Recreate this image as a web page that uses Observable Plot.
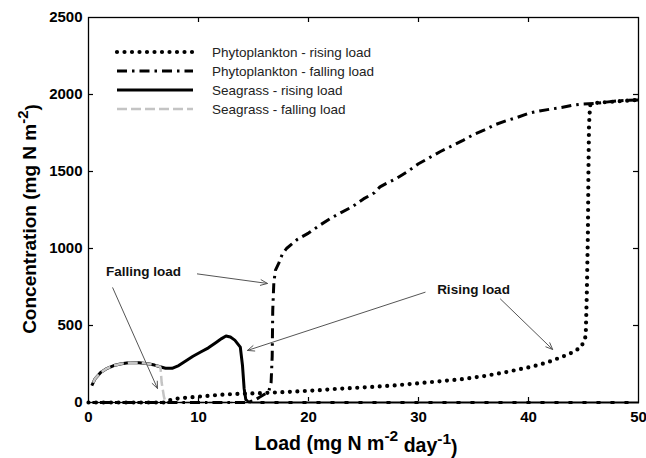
<!DOCTYPE html>
<html><head><meta charset="utf-8">
<script src="https://cdn.jsdelivr.net/npm/d3@7"></script>
<script src="https://cdn.jsdelivr.net/npm/@observablehq/plot@0.6"></script>
<style>
body{margin:0;background:#fff;}
#chart{width:646px;height:458px;}
</style></head><body><div id="chart"></div>
<script>
const xTicks=[0,10,20,30,40,50];
const yTicks=[0,500,1000,1500,2000,2500];
const seriesNames=["Phytoplankton - rising load","Phytoplankton - falling load","Seagrass - rising load","Seagrass - falling load"];

const phytoRising=[[0,0],[2,0],[4,0],[6,0],[7,0],[7.2,12],[8,25],[9,32],[10,38],[11,44],[12,50],[13,54],[14,57],[15,59],[16,62],[17,65],[18,68],[19,72],[20,76],[21,80],[22,86],[23,90],[24,94],[26,102],[28,112],[30,125],[32,138],[34,152],[36,172],[38,198],[40,228],[41,245],[42,268],[43,295],[44,325],[44.8,360],[45.2,430],[45.3,700],[45.4,1100],[45.45,1500],[45.5,1800],[45.6,1930],[46,1945],[47,1950],[48,1955],[49,1960],[50,1965]];

const phytoFalling=[[50,1965],[49,1962],[48,1958],[47,1950],[46,1942],[45,1938],[44,1930],[43,1915],[42,1905],[41,1893],[40,1878],[39,1852],[38,1830],[37,1805],[36,1770],[35,1740],[34,1700],[33,1665],[32,1630],[31,1590],[30,1550],[29,1500],[28,1455],[27,1420],[26.5,1400],[26,1362],[25,1322],[24,1272],[23,1235],[22,1195],[21,1150],[20,1100],[19,1060],[18.5,1030],[18,1000],[17.6,960],[17.3,905],[17.0,860],[16.85,780],[16.75,600],[16.7,300],[16.6,130],[16.4,75],[16.1,58],[15.5,32],[15.0,12],[14.6,3],[14.3,0],[12,0],[10,0],[8,0],[6,0],[4,0],[2,0],[0,0]];

const seagrassRising=[[0.3,110],[0.6,155],[1.1,195],[1.7,222],[2.3,240],[3,252],[3.8,260],[4.6,258],[5.4,252],[6,243],[6.5,232],[7,222],[7.6,222],[8.2,240],[8.8,268],[9.5,300],[10.2,328],[10.9,355],[11.6,390],[12.1,415],[12.5,432],[12.9,425],[13.3,405],[13.8,360],[14.0,240],[14.15,90],[14.3,20],[14.5,5],[15,0],[20,0],[30,0],[40,0],[50,0]];

const seagrassFalling=[[50,0],[40,0],[30,0],[20,0],[10,0],[7.0,0],[6.85,40],[6.65,130],[6.55,225],[6.5,232],[6,243],[5.4,252],[4.6,258],[3.8,260],[3,252],[2.3,240],[1.7,222],[1.1,195],[0.6,155],[0.3,110]];

const noteText=["Falling load","Rising load"];
const noteX=[5.0,35.0];
const noteY=[850,735];
const arrowFrom=[[2.2,745],[9.9,835],[37.45,672],[30.6,716]];
const arrowTo=[[6.27,91],[16.27,773],[42.2,344],[14.45,338]];

const W=646,H=458,mL=88,mR=8,mT=17,mB=56;
const innerW=W-mL-mR, innerH=H-mT-mB;
const font="'Liberation Sans', Arial, Helvetica, sans-serif";
const xy={x:d=>d[0],y:d=>d[1]};
const dotted={w:4.2,d:"0 7.5",c:"#000",cap:"round"};
const dashDot={w:3,d:"10 5 2.5 5",c:"#000",cap:"butt"};
const solid={w:3,d:null,c:"#000",cap:"butt"};
const grayDash={w:2.5,d:"10 4",c:"#c4c4c4",cap:"butt"};

const arrows=arrowFrom.map((f,i)=>({x1:f[0],y1:f[1],x2:arrowTo[i][0],y2:arrowTo[i][1]}));
const notes=noteText.map((t,i)=>({t,x:noteX[i],y:noteY[i]}));
const lineOpts=s=>({...xy,stroke:s.c,strokeWidth:s.w,strokeDasharray:s.d||undefined,strokeLinecap:s.cap,strokeLinejoin:"round"});

const plot=Plot.plot({
  width:W,height:H,marginLeft:mL,marginRight:mR,marginTop:mT,marginBottom:mB,
  x:{domain:[0,50]},y:{domain:[0,2500]},
  style:{fontFamily:font,background:"#fff",color:"#000"},
  marks:[
    Plot.axisX(xTicks,{tickSize:0,tickPadding:9,fontSize:15,fontWeight:"bold",label:null,tickFormat:d3.format("d")}),
    Plot.axisY(yTicks,{tickSize:0,tickPadding:6,fontSize:15,fontWeight:"bold",label:null,tickFormat:d3.format("d")}),
    Plot.ruleX(xTicks.slice(1,-1),{insetTop:innerH-5,stroke:"#000",strokeWidth:1.2}),
    Plot.ruleX(xTicks.slice(1,-1),{insetBottom:innerH-5,stroke:"#000",strokeWidth:1.2}),
    Plot.ruleY(yTicks.slice(1,-1),{insetRight:innerW-5,stroke:"#000",strokeWidth:1.2}),
    Plot.ruleY(yTicks.slice(1,-1),{insetLeft:innerW-5,stroke:"#000",strokeWidth:1.2}),
    Plot.line(seagrassRising,lineOpts(solid)),
    Plot.line(seagrassFalling,lineOpts(grayDash)),
    Plot.line(phytoFalling,lineOpts(dashDot)),
    Plot.line(phytoRising,lineOpts(dotted)),
    Plot.arrow(arrows,{x1:"x1",y1:"y1",x2:"x2",y2:"y2",stroke:"#555",strokeWidth:1,headLength:11,headAngle:45}),
    Plot.text(notes,{x:"x",y:"y",text:"t",fontSize:13.5,fontWeight:"bold",fill:"#111"}),
    Plot.frame({stroke:"#000",strokeWidth:1.3})
  ]
});
document.getElementById("chart").appendChild(plot);

const svg=d3.select(plot);
const xl=svg.append("text").attr("x",356).attr("y",450).attr("text-anchor","middle")
  .attr("font-family",font).attr("font-size",19.5).attr("font-weight","bold").attr("fill","#000");
xl.append("tspan").text("Load (mg N m");
xl.append("tspan").attr("dy","-0.55em").attr("font-size",15.5).text("-2");
xl.append("tspan").attr("dy","0.55em").text(" day");
xl.append("tspan").attr("dy","-0.55em").attr("font-size",15.5).text("-1");
xl.append("tspan").attr("dy","0.55em").text(")");

const yl=svg.append("text").attr("transform","translate(36,219) rotate(-90)").attr("text-anchor","middle")
  .attr("font-family",font).attr("font-size",19).attr("font-weight","bold").attr("fill","#000");
yl.append("tspan").text("Concentration (mg N m");
yl.append("tspan").attr("dy","-0.55em").attr("font-size",15).text("-2");
yl.append("tspan").attr("dy","0.55em").text(")");

const styles=[dotted,dashDot,solid,grayDash];
const lg=svg.append("g");
seriesNames.forEach((n,i)=>{
  const y=52+i*19;
  const s=styles[i];
  const l=lg.append("line").attr("x1",117).attr("x2",193).attr("y1",y).attr("y2",y)
    .attr("stroke",s.c).attr("stroke-width",s.w).attr("stroke-linecap",s.cap);
  if(s.d) l.attr("stroke-dasharray",s.d);
  lg.append("text").attr("x",212).attr("y",y+5).attr("text-anchor","start").attr("font-family",font).attr("font-size",13.5)
    .attr("fill","#222").text(n);
});
</script></body></html>
